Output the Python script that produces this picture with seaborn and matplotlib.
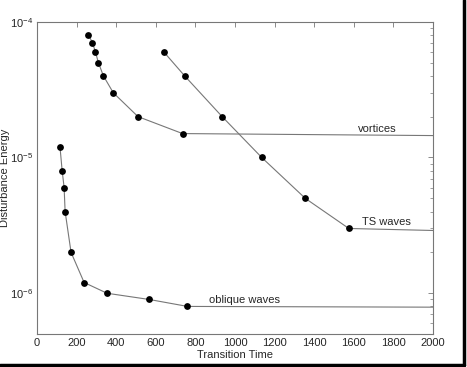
import numpy as np
import pandas as pd
import matplotlib
matplotlib.use("Agg")
import matplotlib.pyplot as plt
from matplotlib.ticker import LogLocator, MultipleLocator
import seaborn as sns

# valeurs
vortex_t = [260, 280, 295, 310, 335, 385, 510, 735]
vortex_e = [8e-5, 7e-5, 6e-5, 5e-5, 4e-5, 3e-5, 2e-5, 1.5e-5]
vortex_tail = 1.45e-5

ts_t = [640, 745, 935, 1135, 1355, 1575]
ts_e = [6e-5, 4e-5, 2e-5, 1e-5, 5e-6, 3e-6]
ts_tail = 2.9e-6

oblique_t = [116, 127, 137, 142, 172, 238, 354, 567, 760]
oblique_e = [1.2e-5, 8e-6, 6e-6, 4e-6, 2e-6, 1.2e-6, 1e-6, 9e-7, 8e-7]
oblique_tail = 7.9e-7

t_end = 2000
labels = ["vortices", "TS waves", "oblique waves"]

sns.set_style("white")
plt.rcParams['font.family'] = ['Liberation Sans', 'DejaVu Sans']
plt.rcParams['mathtext.fontset'] = 'custom'
plt.rcParams['mathtext.rm'] = 'Liberation Sans'

# points mesures et prolongement horizontal jusqu'a t = 2000
series = [(vortex_t, vortex_e, vortex_tail),
          (ts_t, ts_e, ts_tail),
          (oblique_t, oblique_e, oblique_tail)]
frames_line = []
frames_pts = []
for name, (t, e, tail) in zip(labels, series):
    frames_pts.append(pd.DataFrame({"t": t, "e": e, "mode": name}))
    frames_line.append(pd.DataFrame({"t": t + [t_end], "e": e + [tail], "mode": name}))
df_line = pd.concat(frames_line, ignore_index=True)
df_pts = pd.concat(frames_pts, ignore_index=True)

fig = plt.figure(figsize=(4.67, 3.67), dpi=100)
ax = fig.add_axes([37 / 467, 1 - 334 / 367, (433 - 37) / 467, (334 - 21.7) / 367])

gray = "#777777"
fs = 8
sns.lineplot(data=df_line, x="t", y="e", units="mode", estimator=None,
             color=gray, linewidth=0.8, sort=False, ax=ax, legend=False)
sns.scatterplot(data=df_pts, x="t", y="e", color="black", s=24,
                edgecolor="black", linewidth=0, ax=ax, legend=False, zorder=3)

ax.set_yscale("log")
ax.set_xlim(0, 2000)
ax.set_ylim(10 ** -6.3, 1e-4)
ax.xaxis.set_major_locator(MultipleLocator(200))
ax.yaxis.set_major_locator(LogLocator(base=10, numticks=10))
ax.yaxis.set_minor_locator(LogLocator(base=10, subs=np.arange(2, 10), numticks=10))

for sp in ax.spines.values():
    sp.set_color(gray)
    sp.set_linewidth(0.8)
ax.tick_params(which="both", direction="in", top=True, right=True,
               color=gray, labelsize=fs, pad=3)
ax.tick_params(which="major", length=3.5, width=0.6)
ax.tick_params(which="minor", length=2, width=0.5, labelleft=False)

ax.set_xlabel("Transition Time", fontsize=fs)
ax.xaxis.set_label_coords(0.5, -0.05)
ax.set_ylabel("Disturbance Energy", fontsize=fs)
ax.yaxis.set_label_coords(-0.068, 0.5)

ax.text(1720, 1.63e-5, labels[0], fontsize=fs, ha="center", va="center")
ax.text(1765, 3.35e-6, labels[1], fontsize=fs, ha="center", va="center")
ax.text(1050, 8.9e-7, labels[2], fontsize=fs, ha="center", va="center")

# cadre noir de la capture (bord droit et bas)
fig.add_artist(plt.Line2D([464 / 467, 464 / 467], [1 - 365 / 367, 1], color="black", lw=2.5))
fig.add_artist(plt.Line2D([0, 464 / 467], [1 - 365 / 367, 1 - 365 / 367], color="black", lw=2.5))

fig.savefig("out.png", dpi=100)
